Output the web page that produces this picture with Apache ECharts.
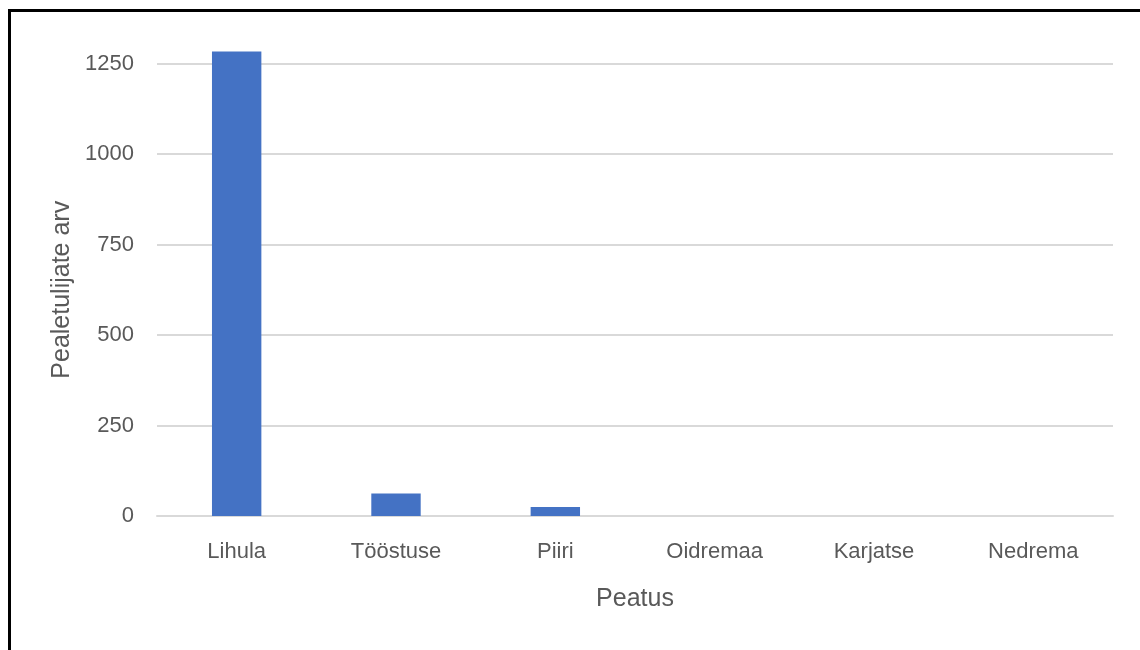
<!DOCTYPE html>
<html>
<head>
<meta charset="utf-8">
<script src="https://cdn.jsdelivr.net/npm/echarts@6/dist/echarts.min.js"></script>
<style>html,body{margin:0;padding:0;background:#fff}#c{width:1140px;height:650px}</style>
</head>
<body>
<div id="c"></div>
<script>
const categories = ['Lihula', 'Tööstuse', 'Piiri', 'Oidremaa', 'Karjatse', 'Nedrema'];
const values = [1283, 62, 25, 0, 0, 0];
const yTicks = [0, 250, 500, 750, 1000, 1250];
const xTitle = 'Peatus';
const yTitle = 'Pealetulijate arv';

const FONT = '"Liberation Sans", sans-serif';
const chart = echarts.init(document.getElementById('c'), null, {renderer: 'canvas'});
chart.setOption({
  animation: false,
  backgroundColor: '#ffffff',
  grid: {left: 157, right: 27, top: 63.5, bottom: 134, containLabel: false},
  graphic: [
    {type: 'line', shape: {x1: 9.5, y1: 10.5, x2: 9.5, y2: 650}, style: {stroke: '#000', lineWidth: 3}},
    {type: 'line', shape: {x1: 8, y1: 10.5, x2: 1140, y2: 10.5}, style: {stroke: '#000', lineWidth: 3}}
  ],
  xAxis: {
    type: 'category',
    data: categories,
    name: xTitle,
    nameLocation: 'middle',
    nameGap: 71,
    nameTextStyle: {color: '#595959', fontSize: 25, fontFamily: FONT},
    axisLine: {show: true, lineStyle: {color: '#d9d9d9', width: 2}},
    axisTick: {show: false},
    axisLabel: {color: '#595959', fontSize: 22, fontFamily: FONT, margin: 25}
  },
  yAxis: {
    type: 'value',
    min: yTicks[0],
    max: yTicks[yTicks.length - 1],
    interval: yTicks[1] - yTicks[0],
    name: yTitle,
    nameLocation: 'middle',
    nameRotate: 90,
    nameGap: 80,
    nameTextStyle: {color: '#595959', fontSize: 25, fontFamily: FONT},
    axisLine: {show: false},
    axisTick: {show: false},
    axisLabel: {color: '#595959', fontSize: 22, fontFamily: FONT, margin: 23, formatter: v => String(v)},
    splitLine: {show: true, lineStyle: {color: '#d9d9d9', width: 2}}
  },
  series: [{
    type: 'bar',
    data: values,
    barWidth: '31%',
    clip: false,
    itemStyle: {color: '#4472c4'}
  }]
});
</script>
</body>
</html>
